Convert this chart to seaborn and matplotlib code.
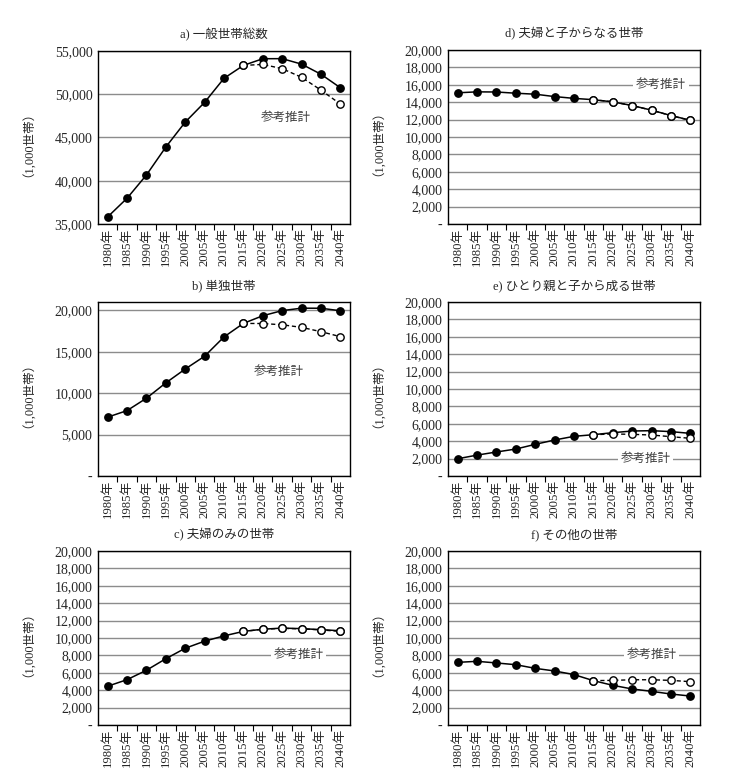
import numpy as np
import pandas as pd
import seaborn as sns
import matplotlib.pyplot as plt
from matplotlib.ticker import FixedLocator, FuncFormatter

years = ['1980年', '1985年', '1990年', '1995年', '2000年', '2005年', '2010年',
         '2015年', '2020年', '2025年', '2030年', '2035年', '2040年']
ref_start = 7  # reference projection starts at 2015

# a) total general households (1,000)
total = [35824, 37980, 40670, 43900, 46782, 49063, 51842, 53332,
         54107, 54116, 53484, 52315, 50757]
total_ref = [53332, 53450, 52960, 51960, 50480, 48870]

# b) single person
single = [7105, 7895, 9390, 11239, 12911, 14457, 16785, 18418,
          19342, 19960, 20254, 20247, 19944]
single_ref = [18418, 18400, 18250, 17940, 17420, 16820]

# c) couple only
couple = [4460, 5212, 6294, 7619, 8823, 9637, 10244, 10758,
          11010, 11139, 11075, 10961, 10831]
couple_ref = [10758, 11000, 11110, 11050, 10930, 10760]

# d) couple and children
family = [15081, 15189, 15172, 15032, 14919, 14646, 14440, 14288,
          14037, 13618, 13084, 12471, 11923]
family_ref = [14288, 14040, 13610, 13080, 12460, 11900]

# e) single parent and children
parent = [1985, 2400, 2760, 3100, 3640, 4140, 4560, 4748,
          4980, 5170, 5210, 5100, 4900]
parent_ref = [4748, 4830, 4790, 4710, 4520, 4330]

# f) others
other = [7200, 7320, 7130, 6930, 6510, 6210, 5790, 5100,
         4560, 4140, 3870, 3560, 3330]
other_ref = [5100, 5130, 5200, 5200, 5130, 4980]

sns.set_theme(style='white')
plt.rcParams['font.family'] = ['Liberation Serif', 'Noto Sans CJK JP']

fig = plt.figure(figsize=(7.5, 7.78), dpi=100)

W, H = 750, 778
def box(l, t, r, b):
    return [l / W, 1 - b / H, (r - l) / W, (b - t) / H]

panels = [
    ('a) 一般世帯総数', total, total_ref, (35000, 55000), 5000, (9.2, 47230, False), box(98, 51, 350, 224)),
    ('b) 単独世帯', single, single_ref, (0, 21000), 5000, (8.8, 12500, False), box(98, 302, 350, 476)),
    ('c) 夫婦のみの世帯', couple, couple_ref, (0, 20000), 2000, (9.85, 8000, True), box(98, 551, 350, 725)),
    ('d) 夫婦と子からなる世帯', family, family_ref, (0, 20000), 2000, (10.5, 16000, True), box(448, 50, 700, 224)),
    ('e) ひとり親と子から成る世帯', parent, parent_ref, (0, 20000), 2000, (9.7, 2000, True), box(448, 302, 700, 476)),
    ('f) その他の世帯', other, other_ref, (0, 20000), 2000, (10.0, 8000, True), box(448, 551, 700, 725)),
]

pos = np.arange(len(years))

def fmt(v, _):
    return '-' if v == 0 else f'{int(v):,}'

for title, actual, ref, ylim, step, lab, rect in panels:
    ax = fig.add_axes(rect)
    df = pd.DataFrame({'pos': pos, 'value': actual})
    dref = pd.DataFrame({'pos': pos[ref_start:], 'value': ref})

    sns.lineplot(data=df, x='pos', y='value', ax=ax, color='black', lw=1.1,
                 marker='o', markersize=5.3, markerfacecolor='black',
                 markeredgecolor='black', markeredgewidth=1, zorder=3)
    sns.lineplot(data=dref, x='pos', y='value', ax=ax, color='black', lw=1.0,
                 linestyle=(0, (3, 2)), marker='o', markersize=5.3,
                 markerfacecolor='white', markeredgecolor='black',
                 markeredgewidth=1, zorder=4)

    ax.set_xlim(-0.5, len(years) - 0.5)
    ax.set_ylim(*ylim)
    yt = np.arange(ylim[0], ylim[1] + 1, step)
    ax.yaxis.set_major_locator(FixedLocator(yt))
    ax.yaxis.set_major_formatter(FuncFormatter(fmt))
    ax.yaxis.grid(True, color='#8c8c8c', lw=1)
    ax.xaxis.grid(False)
    ax.set_axisbelow(True)

    ax.set_xticks(pos)
    ax.set_xticklabels(years, rotation=90, fontsize=9.2)
    ax.xaxis.set_minor_locator(FixedLocator(np.arange(0.5, len(years) - 1, 1)))
    ax.tick_params(axis='x', which='major', length=0, pad=3)
    ax.tick_params(axis='x', which='minor', length=4, width=0.8, color='black',
                   direction='out', bottom=True)
    ax.tick_params(axis='y', length=0, labelsize=10, pad=4)

    for s in ax.spines.values():
        s.set_color('black')
        s.set_linewidth(1)

    ax.set_xlabel('')
    ax.set_ylabel('（1,000世帯）', fontsize=9, labelpad=19)
    ax.set_title(title, fontsize=9, pad=9)

    lx, ly, bg = lab
    kw = dict(ha='center', va='center', fontsize=9, color='#404040', zorder=2)
    if bg:
        kw['bbox'] = dict(facecolor='white', edgecolor='none', pad=2)
    ax.text(lx, ly, '参考推計', **kw)

fig.savefig('out.png', dpi=100)
